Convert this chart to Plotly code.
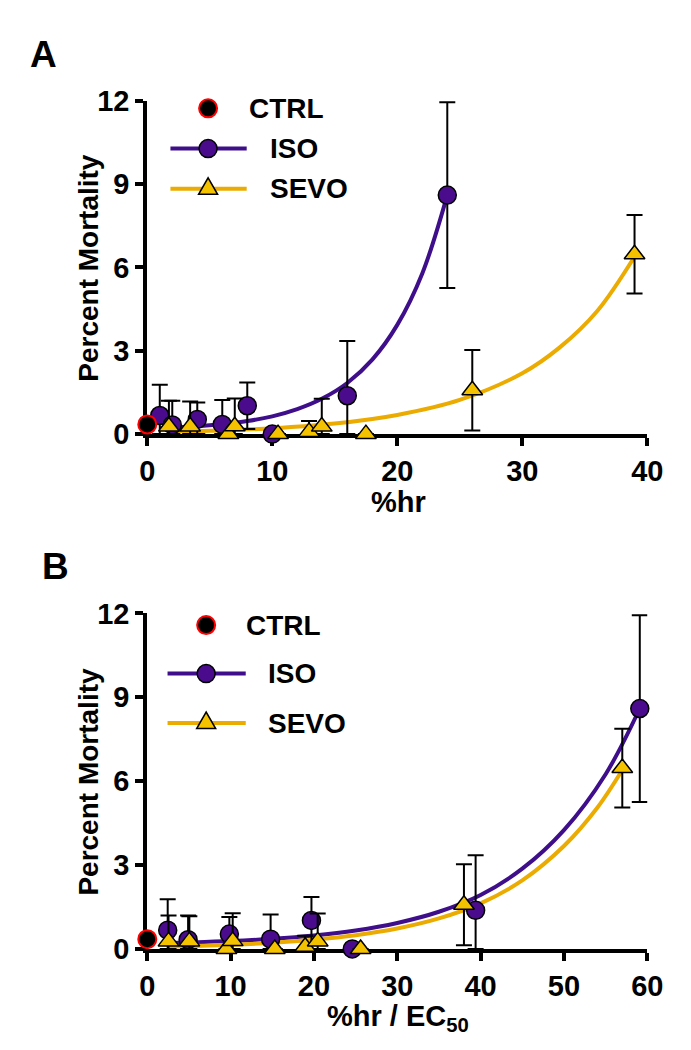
import plotly.graph_objects as go

W, H = 691, 1050

# ---------------- data ----------------
# Panel A: x = %hr
iso_x_a = [1, 2, 4, 6, 8, 10, 16, 24]
sevo_x_a = [1.73, 3.43, 6.49, 7.0, 10.46, 12.94, 13.96, 17.49, 26.0, 38.98]
# Panel B: x = %hr / EC50
iso_x_b = [2.45, 4.9, 9.85, 14.8, 19.7, 24.6, 39.4, 59.1]
sevo_x_b = [2.55, 5.05, 9.5, 10.25, 15.3, 18.95, 20.45, 25.6, 38.0, 57.0]

iso_y = [0.67, 0.33, 0.53, 0.35, 1.02, 0.0, 1.38, 8.6]
iso_err = [1.11, 0.87, 0.61, 0.88, 0.84, 0.0, 1.97, 3.34]
sevo_y = [0.27, 0.27, 0.0, 0.28, 0.0, 0.08, 0.27, 0.0, 1.58, 6.47]
sevo_err = [0.93, 0.9, 0.0, 1.0, 0.0, 0.39, 1.0, 0.0, 1.45, 1.41]

ctrl_x = [0]
ctrl_y = [0.35]

# fitted curves
iso_fit_x_a = [1, 2, 4, 6, 8, 10, 12, 14, 16, 18, 20, 22, 24]
iso_fit_y_a = [0.21, 0.23, 0.28, 0.36, 0.47, 0.64, 0.90, 1.28, 1.84, 2.68, 3.93, 5.78, 8.6]
sevo_fit_x_a = [1.73, 5, 10, 15, 20, 25, 30, 33, 36, 39]
sevo_fit_y_a = [0.08, 0.12, 0.21, 0.38, 0.69, 1.23, 2.19, 3.12, 4.43, 6.4]

iso_fit_x_b = [2.45, 5, 10, 15, 20, 25, 30, 35, 40, 45, 50, 55, 59.1]
iso_fit_y_b = [0.21, 0.23, 0.28, 0.36, 0.48, 0.66, 0.93, 1.33, 1.93, 2.87, 4.25, 6.25, 8.6]
sevo_fit_x_b = [2.55, 5, 10, 15, 20, 25, 30, 35, 40, 45, 50, 54, 57]
sevo_fit_y_b = [0.08, 0.10, 0.15, 0.22, 0.33, 0.49, 0.73, 1.09, 1.63, 2.45, 3.68, 5.05, 6.4]

x_ticks_a = [0, 10, 20, 30, 40]
x_ticks_b = [0, 10, 20, 30, 40, 50, 60]
y_ticks = [0, 3, 6, 9, 12]

# ---------------- styles ----------------
ISO_C = "#4a0c8c"
ISO_LINE = "#3f0e8a"
SEVO_C = "#f5c200"
SEVO_LINE = "#ebab00"
FONT = "Liberation Sans, Arial, sans-serif"


def px(x):
    return x / W


def py(y):
    return 1 - y / H


def minus(vals, errs):
    return [min(e, v) for v, e in zip(vals, errs)]


fig = go.Figure()

panels = [
    ("x", "y", iso_x_a, sevo_x_a, iso_fit_x_a, iso_fit_y_a, sevo_fit_x_a, sevo_fit_y_a),
    ("x2", "y2", iso_x_b, sevo_x_b, iso_fit_x_b, iso_fit_y_b, sevo_fit_x_b, sevo_fit_y_b),
]

for xa, ya, ix, sx, ifx, ify, sfx, sfy in panels:
    fig.add_trace(go.Scatter(x=ifx, y=ify, mode="lines", line=dict(color=ISO_LINE, width=4, shape="spline"),
                             xaxis=xa, yaxis=ya, showlegend=False, hoverinfo="skip"))
    fig.add_trace(go.Scatter(x=sfx, y=sfy, mode="lines", line=dict(color=SEVO_LINE, width=4, shape="spline"),
                             xaxis=xa, yaxis=ya, showlegend=False, hoverinfo="skip"))
    fig.add_trace(go.Scatter(
        x=ix, y=iso_y, mode="markers", name="ISO", xaxis=xa, yaxis=ya, showlegend=False, cliponaxis=False,
        marker=dict(symbol="circle", size=18, color=ISO_C, line=dict(color="black", width=1.5)),
        error_y=dict(type="data", array=iso_err, arrayminus=minus(iso_y, iso_err), color="black",
                     thickness=2, width=8)))
    fig.add_trace(go.Scatter(
        x=sx, y=sevo_y, mode="markers", name="SEVO", xaxis=xa, yaxis=ya, showlegend=False, cliponaxis=False,
        marker=dict(symbol="triangle-up", size=18, color=SEVO_C, line=dict(color="black", width=1.5)),
        error_y=dict(type="data", array=sevo_err, arrayminus=minus(sevo_y, sevo_err), color="black",
                     thickness=2, width=8)))
    fig.add_trace(go.Scatter(
        x=ctrl_x, y=ctrl_y, mode="markers", name="CTRL", xaxis=xa, yaxis=ya, showlegend=False, cliponaxis=False,
        marker=dict(symbol="circle", size=18, color="black", line=dict(color="red", width=2))))

x_dom = [px(136), px(654)]
ya_dom = [py(423), py(79)]
yb_dom = [py(954), py(608)]

tickfont = dict(family=FONT, size=29, color="black", weight="bold")
axis_common = dict(showline=True, linewidth=4, linecolor="black", ticks="outside", ticklen=8, tickwidth=4,
                   tickcolor="black", showgrid=False, zeroline=False, tickfont=tickfont, layer="below traces",
                   fixedrange=True)

fig.update_layout(
    width=W, height=H, margin=dict(l=0, r=0, t=0, b=0),
    paper_bgcolor="white", plot_bgcolor="white", showlegend=False,
    xaxis=dict(domain=x_dom, range=[0, 40], anchor="y", tickvals=x_ticks_a, **axis_common),
    yaxis=dict(domain=ya_dom, range=[0, 12], anchor="x", tickvals=y_ticks, **axis_common),
    xaxis2=dict(domain=x_dom, range=[0, 60], anchor="y2", tickvals=x_ticks_b, **axis_common),
    yaxis2=dict(domain=yb_dom, range=[0, 12], anchor="x2", tickvals=y_ticks, **axis_common),
)

bold = lambda s: dict(family=FONT, size=s, color="black", weight="bold")
ann = []
# panel letters
ann.append(dict(text="A", x=px(28), y=py(31), xref="paper", yref="paper", showarrow=False,
                font=bold(37), xanchor="center", yanchor="middle"))
ann.append(dict(text="B", x=px(41), y=py(560), xref="paper", yref="paper", showarrow=False,
                font=bold(37), xanchor="center", yanchor="middle"))
# axis titles
for yc in (251, 781):
    ann.append(dict(text="Percent Mortality", x=px(75), y=py(yc), xref="paper", yref="paper",
                    showarrow=False, textangle=-90, font=bold(28), xanchor="center", yanchor="middle"))
ann.append(dict(text="%hr", x=px(396), y=py(493), xref="paper", yref="paper", showarrow=False,
                font=bold(29), xanchor="center", yanchor="middle"))
ann.append(dict(text="%hr / EC<sub>50</sub>", x=px(396), y=py(1025), xref="paper", yref="paper",
                showarrow=False, font=bold(29), xanchor="center", yanchor="middle"))

# legends (one per panel)
legends = [
    dict(mx=199, lx0=160, lx1=239, rows=(87, 128.5, 170), tx=(239, 261, 261)),
    dict(mx=197, lx0=157, lx1=238, rows=(620, 670, 721), tx=(236, 259, 259)),
]
shapes = []
for lg in legends:
    r_ctrl, r_iso, r_sevo = lg["rows"]
    for label, row, tx in zip(("CTRL", "ISO", "SEVO"), lg["rows"], lg["tx"]):
        ann.append(dict(text=label, x=px(tx), y=py(row), xref="paper", yref="paper", showarrow=False,
                        font=bold(28), xanchor="left", yanchor="middle"))
    shapes.append(dict(type="line", xref="paper", yref="paper", x0=px(lg["lx0"]), x1=px(lg["lx1"]),
                       y0=py(r_iso), y1=py(r_iso), line=dict(color=ISO_LINE, width=4)))
    shapes.append(dict(type="line", xref="paper", yref="paper", x0=px(lg["lx0"]), x1=px(lg["lx1"]),
                       y0=py(r_sevo), y1=py(r_sevo), line=dict(color=SEVO_LINE, width=4)))
    shapes.append(dict(type="circle", xref="paper", yref="paper", xsizemode="pixel", ysizemode="pixel",
                       xanchor=px(lg["mx"]), yanchor=py(r_ctrl), x0=-9, x1=9, y0=-9, y1=9,
                       fillcolor="black", line=dict(color="red", width=2)))
    shapes.append(dict(type="circle", xref="paper", yref="paper", xsizemode="pixel", ysizemode="pixel",
                       xanchor=px(lg["mx"]), yanchor=py(r_iso), x0=-9, x1=9, y0=-9, y1=9,
                       fillcolor=ISO_C, line=dict(color="black", width=1.5)))
    shapes.append(dict(type="path", xref="paper", yref="paper", xsizemode="pixel", ysizemode="pixel",
                       xanchor=px(lg["mx"]), yanchor=py(r_sevo), path="M -9.5,-5.5 L 9.5,-5.5 L 0,11 Z",
                       fillcolor=SEVO_C, line=dict(color="black", width=1.5)))

fig.update_layout(annotations=ann, shapes=shapes)
fig.write_html("out.html")
